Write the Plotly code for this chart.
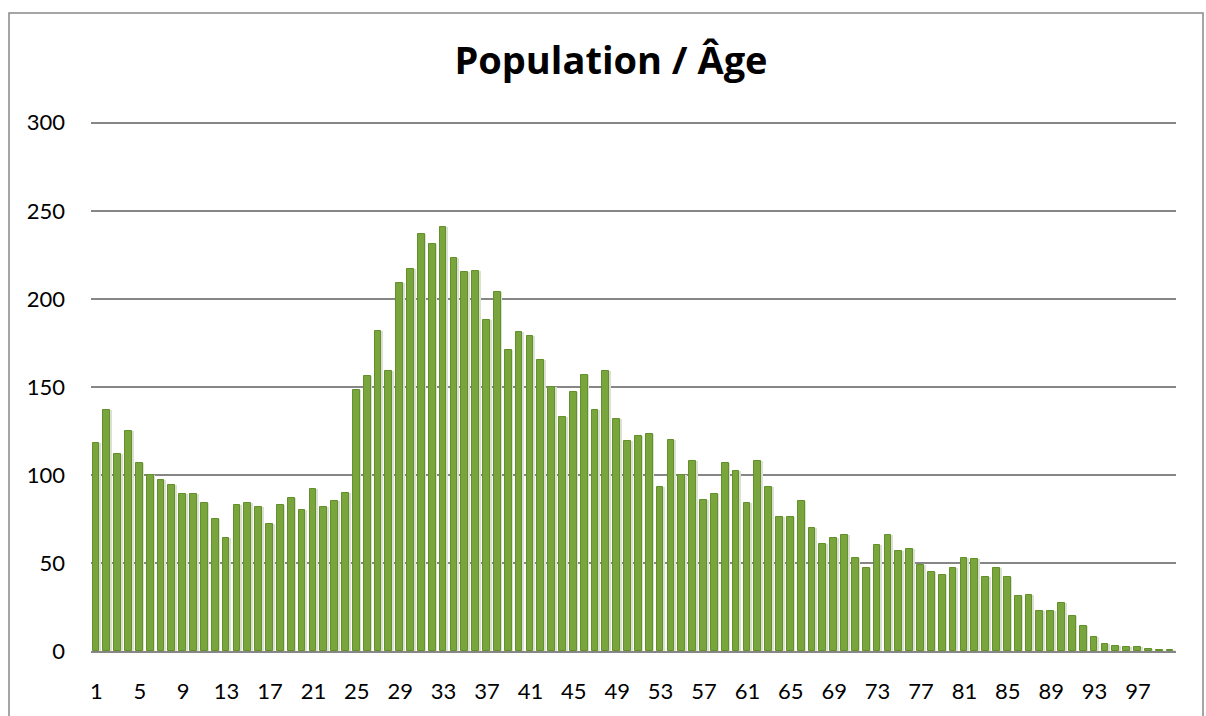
import plotly.graph_objects as go

ages = list(range(1, 101))
population = [118, 137, 112, 125, 107, 100, 97, 94, 89, 89,
              84, 75, 64, 83, 84, 82, 72, 83, 87, 80,
              92, 82, 85, 90, 148, 156, 182, 159, 209, 217,
              237, 231, 241, 223, 215, 216, 188, 204, 171, 181,
              179, 165, 150, 133, 147, 157, 137, 159, 132, 119,
              122, 123, 93, 120, 100, 108, 86, 89, 107, 102,
              84, 108, 93, 76, 76, 85, 70, 61, 64, 66,
              53, 47, 60, 66, 57, 58, 49, 45, 43, 47,
              53, 52, 42, 47, 42, 31, 32, 23, 23, 27,
              20, 14, 8, 4, 3, 2, 2, 1, 0.5, 0.4]
tick_vals = list(range(1, 101, 4))
tick_text = [str(v) for v in tick_vals]
y_ticks = [0, 50, 100, 150, 200, 250, 300]

W, H = 1206, 716
ML, MR, MT, MB = 91, 30, 121, 60
pw = W - ML - MR
ph = H - MT - MB

fig = go.Figure()
# pale shadow strip beside each bar (3D look)
fig.add_trace(go.Bar(x=ages, y=population, width=0.3, offset=0.12,
                     marker=dict(color="#dcdfd4", line=dict(width=0)),
                     hoverinfo="skip", showlegend=False))
fig.add_trace(go.Bar(x=ages, y=population, width=0.62, offset=-0.36,
                     marker=dict(color="#7aa53c", line=dict(color="#62902a", width=1)),
                     showlegend=False))

fig.update_layout(
    width=W, height=H,
    margin=dict(l=ML, r=MR, t=MT, b=MB),
    paper_bgcolor="white", plot_bgcolor="white",
    barmode="overlay", bargap=0,
    font=dict(family="Lato, 'Open Sans', sans-serif", size=22, color="#000"),
    title=dict(text="<b>Population / Âge</b>", x=611 / W, xanchor="center",
               y=1 - 61 / H, yanchor="middle", yref="container",
               font=dict(size=38, family="'Open Sans', Lato, sans-serif", color="#000")),
    xaxis=dict(range=[0.5, 100.5], tickmode="array", tickvals=tick_vals, ticktext=tick_text,
               showgrid=False, showline=True, linecolor="#868686", linewidth=2,
               ticks="", ticklabelstandoff=20, zeroline=False,
               tickfont=dict(size=22)),
    yaxis=dict(range=[0, 301], tickmode="array", tickvals=y_ticks,
               showgrid=True, gridcolor="#868686", gridwidth=1.6,
               zeroline=False, showline=False, ticks="", ticklabelstandoff=25,
               tickfont=dict(size=22)),
    shapes=[dict(type="rect", xref="paper", yref="paper",
                 x0=(9 - ML) / pw, x1=(1203 - ML) / pw,
                 y0=(H - MB - 730) / ph, y1=(H - MB - 12) / ph,
                 line=dict(color="#888888", width=1.5), fillcolor="rgba(0,0,0,0)", layer="below")],
)

fig.write_html("out.html", config={"displayModeBar": False},
               post_script="document.body.style.margin='0';")
